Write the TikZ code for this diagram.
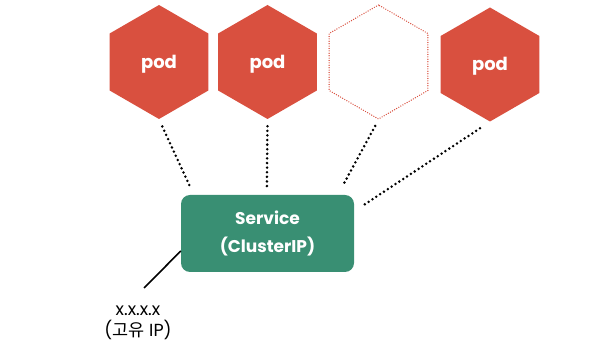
\documentclass[tikz,border=0pt]{standalone}
\usepackage{fontspec}
\setmainfont{Poppins}
\newfontfamily\krfont{Noto Sans CJK KR}
\usetikzlibrary{shapes.geometric}
\definecolor{podred}{HTML}{D9503F}
\definecolor{svcgreen}{HTML}{398F73}
\tikzset{
  podhex/.style={regular polygon, regular polygon sides=6, regular polygon rotate=30,
    minimum size=114pt, inner sep=0pt, fill=podred, text=white,
    text height=13pt, text depth=0pt,
    font=\fontsize{18}{20}\selectfont\bfseries},
  emptyhex/.style={regular polygon, regular polygon sides=6, regular polygon rotate=30,
    minimum size=114pt, inner sep=0pt, draw=podred, line width=1.4pt,
    dash pattern=on 0pt off 2.4pt, line cap=round},
  svcbox/.style={rectangle, rounded corners=9pt, fill=svcgreen, text=white,
    minimum width=173pt, minimum height=77pt, align=center,
    font=\fontsize{17}{28}\selectfont\bfseries},
  dotline/.style={line width=2.8pt, dash pattern=on 0pt off 4.6pt, line cap=round},
  iplabel/.style={align=center, inner sep=0pt, font=\fontsize{17.5}{21}\selectfont}
}
\begin{document}
\begin{tikzpicture}[x=1pt,y=-1pt]
\useasboundingbox (0,0) rectangle (592,352);
\node[podhex] (h1) at (159,62) {pod};
\node[podhex] (h2) at (267.5,62) {pod};
\node[emptyhex] (h3) at (378.5,62) {};
\node[podhex] (h4) at (490,64.5) {pod};
\node[svcbox] (svc) at (267.5,233.5) {Service\\(ClusterIP)};
\coordinate (ip) at (144,288);
\node[iplabel] (lbl) at (138,322.5) {x.x.x.x\\({\krfont 고유} IP)};
\draw[dotline, shorten <=8pt, shorten >=9pt] (h1.south) -- ([xshift=13pt]svc.north west);
\draw[dotline, shorten <=7pt, shorten >=8pt] (h2.south) -- ([xshift=86pt]svc.north west);
\draw[dotline, shorten <=7pt, shorten >=10pt] (h3.south) -- ([xshift=157pt]svc.north west);
\draw[dotline, shorten <=12pt, shorten >=10pt] (h4.south) -- ([yshift=-16.5pt]svc.north east);
\draw[line width=1.6pt] ([yshift=-17.5pt]svc.west) -- (ip);
\end{tikzpicture}
\end{document}
